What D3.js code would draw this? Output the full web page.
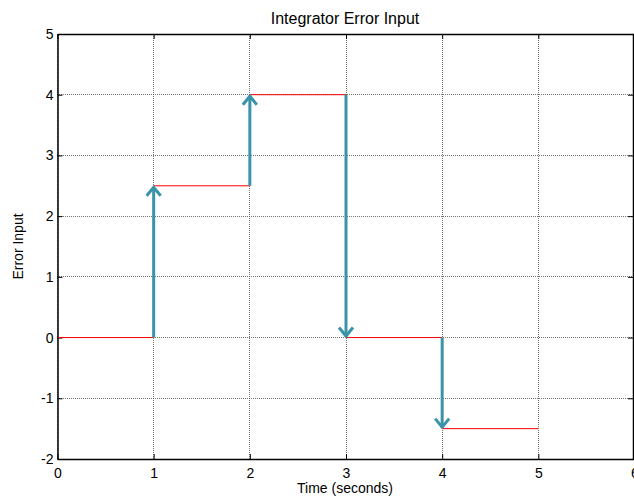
<!DOCTYPE html>
<html lang="en">
<head>
    <meta charset="UTF-8">
    <title>Integrator Error Input</title>
    <script src="https://d3js.org/d3.v7.min.js"></script>
    <style>
        body { margin: 0; background: #fff; }
        svg { display: block; font-family: "Liberation Sans", Arial, sans-serif; }
    </style>
</head>
<body>
    <div id="chart"></div>
    <script>
        // Step levels (red) : each holds from start to end
        const stepStart = [0, 1, 2, 3, 4];
        const stepEnd = [1, 2, 3, 4, 5];
        const stepValue = [0, 2.5, 4, 0, -1.5];

        // Jumps (teal arrows) at the step times
        const jumpTime = [1, 2, 3, 4];
        const jumpFrom = [0, 2.5, 4, 0];
        const jumpTo = [2.5, 4, 0, -1.5];

        const xTicks = [0, 1, 2, 3, 4, 5, 6];
        const yTicks = [-2, -1, 0, 1, 2, 3, 4, 5];

        const width = 634, height = 503;
        const margin = { top: 34, right: -0.5, bottom: 44, left: 57.5 };
        const innerW = width - margin.left - margin.right;
        const innerH = height - margin.top - margin.bottom;

        const svg = d3.select("#chart").append("svg")
            .attr("width", width)
            .attr("height", height);

        const g = svg.append("g")
            .attr("transform", `translate(${margin.left},${margin.top})`);

        const x = d3.scaleLinear().domain([0, 6]).range([0, innerW]);
        const y = d3.scaleLinear().domain([-2, 5]).range([innerH, 0]);

        // grid (dotted)
        g.append("g").selectAll("line").data(xTicks).join("line")
            .attr("x1", d => x(d)).attr("x2", d => x(d))
            .attr("y1", 0).attr("y2", innerH)
            .attr("stroke", "#555").attr("stroke-width", 1)
            .attr("shape-rendering", "crispEdges")
            .attr("stroke-dasharray", "1,1").attr("opacity", 0.8);
        g.append("g").selectAll("line").data(yTicks).join("line")
            .attr("x1", -0.5).attr("x2", innerW)
            .attr("y1", d => y(d)).attr("y2", d => y(d))
            .attr("stroke", "#555").attr("stroke-width", 1)
            .attr("shape-rendering", "crispEdges")
            .attr("stroke-dasharray", "1,1").attr("opacity", 0.8);

        // axes with inside ticks
        const fmt = d => String(d);
        const tickFont = g => g.selectAll("text")
            .attr("font-size", 14).attr("fill", "#000")
            .attr("font-family", "Liberation Sans, Arial, sans-serif");

        g.append("g")
            .attr("transform", `translate(0,${innerH})`)
            .call(d3.axisBottom(x).tickValues(xTicks).tickFormat(fmt).tickSize(-5).tickPadding(9).tickSizeOuter(0))
            .call(tickFont)
            .call(a => a.select(".domain").attr("stroke-width", 1.5));
        g.append("g")
            .call(d3.axisTop(x).tickValues(xTicks).tickSize(-5).tickFormat("").tickSizeOuter(0))
            .call(a => a.select(".domain").attr("stroke-width", 1.5));
        g.append("g")
            .call(d3.axisLeft(y).tickValues(yTicks).tickFormat(fmt).tickSize(-5).tickPadding(4).tickSizeOuter(0))
            .call(tickFont)
            .call(a => a.select(".domain").attr("stroke-width", 1.5));
        g.append("g")
            .attr("transform", `translate(${innerW - 1.5},0)`)
            .call(d3.axisRight(y).tickValues(yTicks).tickSize(-5).tickFormat("").tickSizeOuter(0))
            .call(a => a.select(".domain").attr("stroke-width", 1.5));

        // red steps
        g.append("g").selectAll("line").data(stepValue).join("line")
            .attr("x1", (d, i) => x(stepStart[i]))
            .attr("x2", (d, i) => x(stepEnd[i]))
            .attr("y1", d => y(d)).attr("y2", d => y(d))
            .attr("stroke", "#ff0000").attr("stroke-width", 1);

        // teal arrows
        const arrowColor = "#3a93a8";
        const arrows = g.append("g");
        jumpTime.forEach((t, i) => {
            const xp = x(t), y0 = y(jumpFrom[i]), y1 = y(jumpTo[i]);
            const dir = y1 < y0 ? 1 : -1;
            arrows.append("line")
                .attr("x1", xp).attr("x2", xp)
                .attr("y1", y0).attr("y2", y1 + dir * 1)
                .attr("stroke", arrowColor).attr("stroke-width", 3);
            arrows.append("path")
                .attr("d", `M${xp - 7},${y1 + dir * 10}L${xp},${y1 + dir * 1.5}L${xp + 7},${y1 + dir * 10}`)
                .attr("fill", "none").attr("stroke", arrowColor)
                .attr("stroke-width", 3).attr("stroke-linejoin", "miter");
        });

        // labels
        svg.append("text")
            .attr("x", 345).attr("y", 24)
            .attr("text-anchor", "middle").attr("font-size", 16)
            .text("Integrator Error Input");
        svg.append("text")
            .attr("x", 345).attr("y", 493)
            .attr("text-anchor", "middle").attr("font-size", 14)
            .text("Time (seconds)");
        svg.append("text")
            .attr("transform", `translate(23,${margin.top + innerH / 2}) rotate(-90)`)
            .attr("text-anchor", "middle").attr("font-size", 14)
            .text("Error Input");
    </script>
</body>
</html>
